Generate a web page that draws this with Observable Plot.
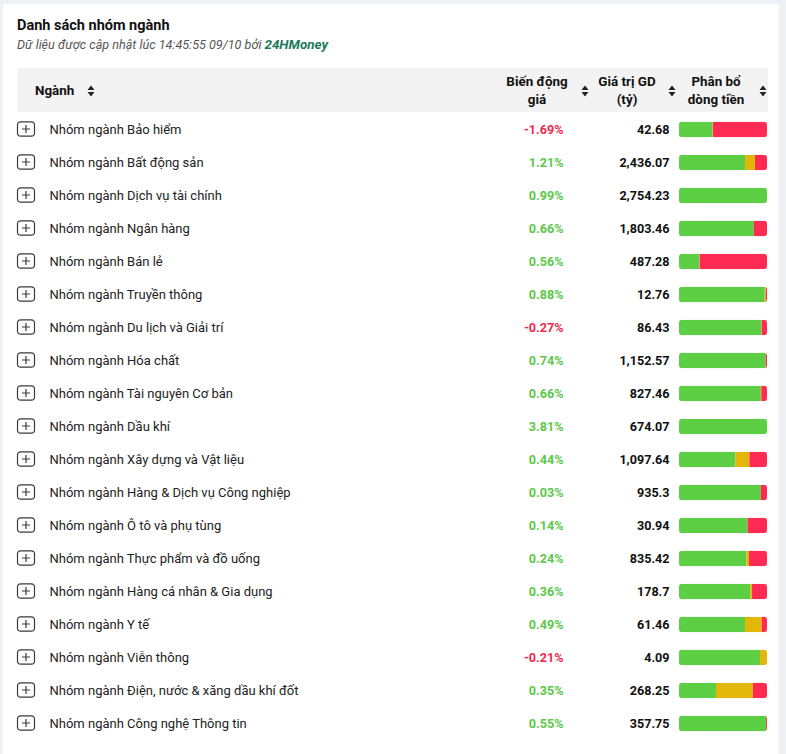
<!DOCTYPE html>
<html><head><meta charset="utf-8">
<script src="https://cdn.jsdelivr.net/npm/d3@7"></script>
<script src="https://cdn.jsdelivr.net/npm/@observablehq/plot@0.6"></script>
<style>
html,body{margin:0;padding:0;background:#eef0f3;}
body{width:786px;height:754px;overflow:hidden;font-family:Roboto,"Noto Sans",sans-serif;position:relative;}
#card{position:absolute;left:3px;top:4px;width:776px;height:760px;background:#fff;}
.abs{position:absolute;white-space:nowrap;}
.title{left:17px;top:17px;font-weight:700;font-size:14.5px;color:#111;}
.sub{left:17px;top:37px;font-style:italic;font-size:12.6px;color:#555;}
.sub b{color:#1b7a5c;font-weight:700;font-size:13.4px;}
#head{position:absolute;left:17px;top:68px;width:751px;height:44px;background:#f3f3f3;}
.h{font-weight:700;font-size:13.4px;color:#111;line-height:18px;text-align:center;}
.sort{position:absolute;width:8px;height:12px;}
#chart{position:absolute;left:0;top:113px;}
</style></head>
<body>
<div id="card"></div>
<div class="abs title">Danh sách nhóm ngành</div>
<div class="abs sub">Dữ liệu được cập nhật lúc 14:45:55 09/10 bởi <b>24HMoney</b></div>
<div id="head"></div>
<div class="abs h" style="left:35px;top:82px;">Ngành</div>
<div class="abs h" style="left:496px;width:82px;top:73px;">Biến động<br>giá</div>
<div class="abs h" style="left:586px;width:82px;top:73px;">Giá trị GD<br>(tỷ)</div>
<div class="abs h" style="left:670px;width:92px;top:73px;">Phân bổ<br>dòng tiền</div>
<div id="chart"></div>
<script>
const sectors = ["Nhóm ngành Bảo hiểm", "Nhóm ngành Bất động sản", "Nhóm ngành Dịch vụ tài chính", "Nhóm ngành Ngân hàng", "Nhóm ngành Bán lẻ", "Nhóm ngành Truyền thông", "Nhóm ngành Du lịch và Giải trí", "Nhóm ngành Hóa chất", "Nhóm ngành Tài nguyên Cơ bản", "Nhóm ngành Dầu khí", "Nhóm ngành Xây dựng và Vật liệu", "Nhóm ngành Hàng & Dịch vụ Công nghiệp", "Nhóm ngành Ô tô và phụ tùng", "Nhóm ngành Thực phẩm và đồ uống", "Nhóm ngành Hàng cá nhân & Gia dụng", "Nhóm ngành Y tế", "Nhóm ngành Viễn thông", "Nhóm ngành Điện, nước & xăng dầu khí đốt", "Nhóm ngành Công nghệ Thông tin"];
const priceChange = [-1.69, 1.21, 0.99, 0.66, 0.56, 0.88, -0.27, 0.74, 0.66, 3.81, 0.44, 0.03, 0.14, 0.24, 0.36, 0.49, -0.21, 0.35, 0.55];
const tradeValue = [42.68, 2436.07, 2754.23, 1803.46, 487.28, 12.76, 86.43, 1152.57, 827.46, 674.07, 1097.64, 935.3, 30.94, 835.42, 178.7, 61.46, 4.09, 268.25, 357.75];
const flowUp   = [0.38, 0.75, 1.00, 0.85, 0.23, 0.974, 0.935, 0.985, 0.93, 1.00, 0.64, 0.93, 0.78, 0.765, 0.81, 0.75, 0.92, 0.42, 0.99];
const flowFlat = [0.005, 0.114, 0, 0, 0.005, 0.012, 0.005, 0, 0.005, 0, 0.16, 0, 0, 0.03, 0.02, 0.19, 0.08, 0.42, 0];
const flowDown = [0.615, 0.136, 0, 0.15, 0.765, 0.014, 0.06, 0.015, 0.065, 0, 0.20, 0.07, 0.22, 0.205, 0.17, 0.06, 0, 0.16, 0.01];
const flowTypes = ["up", "flat", "down"];
const flowColors = ["#5ccf45", "#e2b70a", "#ff2b52"];

const rows = sectors.map((name, i) => ({name, change: priceChange[i], value: tradeValue[i]}));
const flows = sectors.flatMap((name, i) => [
  {name, type: "up", share: flowUp[i]},
  {name, type: "flat", share: flowFlat[i]},
  {name, type: "down", share: flowDown[i]}
]);

const plusBox = {draw(ctx) {
  const w = 8.5, h = 7.2, c = 3;
  ctx.moveTo(-w + c, -h); ctx.lineTo(w - c, -h); ctx.arcTo(w, -h, w, -h + c, c);
  ctx.lineTo(w, h - c); ctx.arcTo(w, h, w - c, h, c);
  ctx.lineTo(-w + c, h); ctx.arcTo(-w, h, -w, h - c, c);
  ctx.lineTo(-w, -h + c); ctx.arcTo(-w, -h, -w + c, -h, c); ctx.closePath();
  ctx.moveTo(-4, 0); ctx.lineTo(4, 0); ctx.moveTo(0, -4); ctx.lineTo(0, 4);
}};

const rowH = 33;
const fmtVal = d3.format(",");
const plot = Plot.plot({
  width: 786, height: sectors.length * rowH + 12,
  marginTop: 0, marginBottom: 12, marginLeft: 0, marginRight: 0,
  x: {domain: [0, 1], range: [679, 767], axis: null},
  y: {domain: sectors, padding: 0, axis: null},
  color: {domain: flowTypes, range: flowColors},
  style: {fontFamily: "Roboto, 'Noto Sans', sans-serif", background: "transparent", overflow: "visible"},
  marks: [
    Plot.dot(rows, {y: "name", frameAnchor: "left", dx: 25.5, dy: -1, symbol: plusBox, stroke: "#3a3a3a", strokeWidth: 1.2, fill: "white"}),
    Plot.text(rows, {y: "name", text: "name", frameAnchor: "left", dx: 49, textAnchor: "start", fontSize: 13, fill: "#222"}),
    Plot.text(rows.filter(d => d.change < 0), {y: "name", text: d => d.change.toFixed(2) + "%", frameAnchor: "left", dx: 563, textAnchor: "end", fontSize: 12.6, fontWeight: 700, fill: "#ee2a4e"}),
    Plot.text(rows.filter(d => d.change >= 0), {y: "name", text: d => d.change.toFixed(2) + "%", frameAnchor: "left", dx: 563, textAnchor: "end", fontSize: 12.6, fontWeight: 700, fill: "#5cc84a"}),
    Plot.text(rows, {y: "name", text: d => fmtVal(d.value), frameAnchor: "left", dx: 669, textAnchor: "end", fontSize: 12.6, fontWeight: 700, fill: "#111"}),
    Plot.barX(flows, {x: "share", y: "name", fill: "type", insetTop: 8.75, insetBottom: 8.75, insetLeft: 0, insetRight: 0})
  ]
});
document.getElementById("chart").appendChild(plot);

// round the outer corners of each stacked bar with a clip path built from the plot's scales
const xs = plot.scale("x"), ys = plot.scale("y");
const ns = "http://www.w3.org/2000/svg";
const defs = document.createElementNS(ns, "defs");
const clip = document.createElementNS(ns, "clipPath");
clip.setAttribute("id", "barclip");
const bw = ys.bandwidth;
for (const name of sectors) {
  const r = document.createElementNS(ns, "rect");
  r.setAttribute("x", xs.apply(0));
  r.setAttribute("width", xs.apply(1) - xs.apply(0));
  r.setAttribute("y", ys.apply(name) + 8.75);
  r.setAttribute("height", bw - 17.5);
  r.setAttribute("rx", 3.2);
  clip.appendChild(r);
}
defs.appendChild(clip);
plot.insertBefore(defs, plot.firstChild);
const barG = plot.querySelector('g[aria-label="bar"]');
if (barG) barG.setAttribute("clip-path", "url(#barclip)");

// sort icons in header
const sortX = [87, 581, 668, 759];
for (const sx of sortX) {
  const s = document.createElementNS(ns, "svg");
  s.setAttribute("class", "sort");
  s.setAttribute("viewBox", "0 0 8 12");
  s.style.left = sx + "px"; s.style.top = "85px";
  s.innerHTML = '<path d="M4 0.5 L7.5 5 L0.5 5 Z M4 11.5 L7.5 7 L0.5 7 Z" fill="#222"/>';
  document.body.appendChild(s);
}
</script>
</body></html>
